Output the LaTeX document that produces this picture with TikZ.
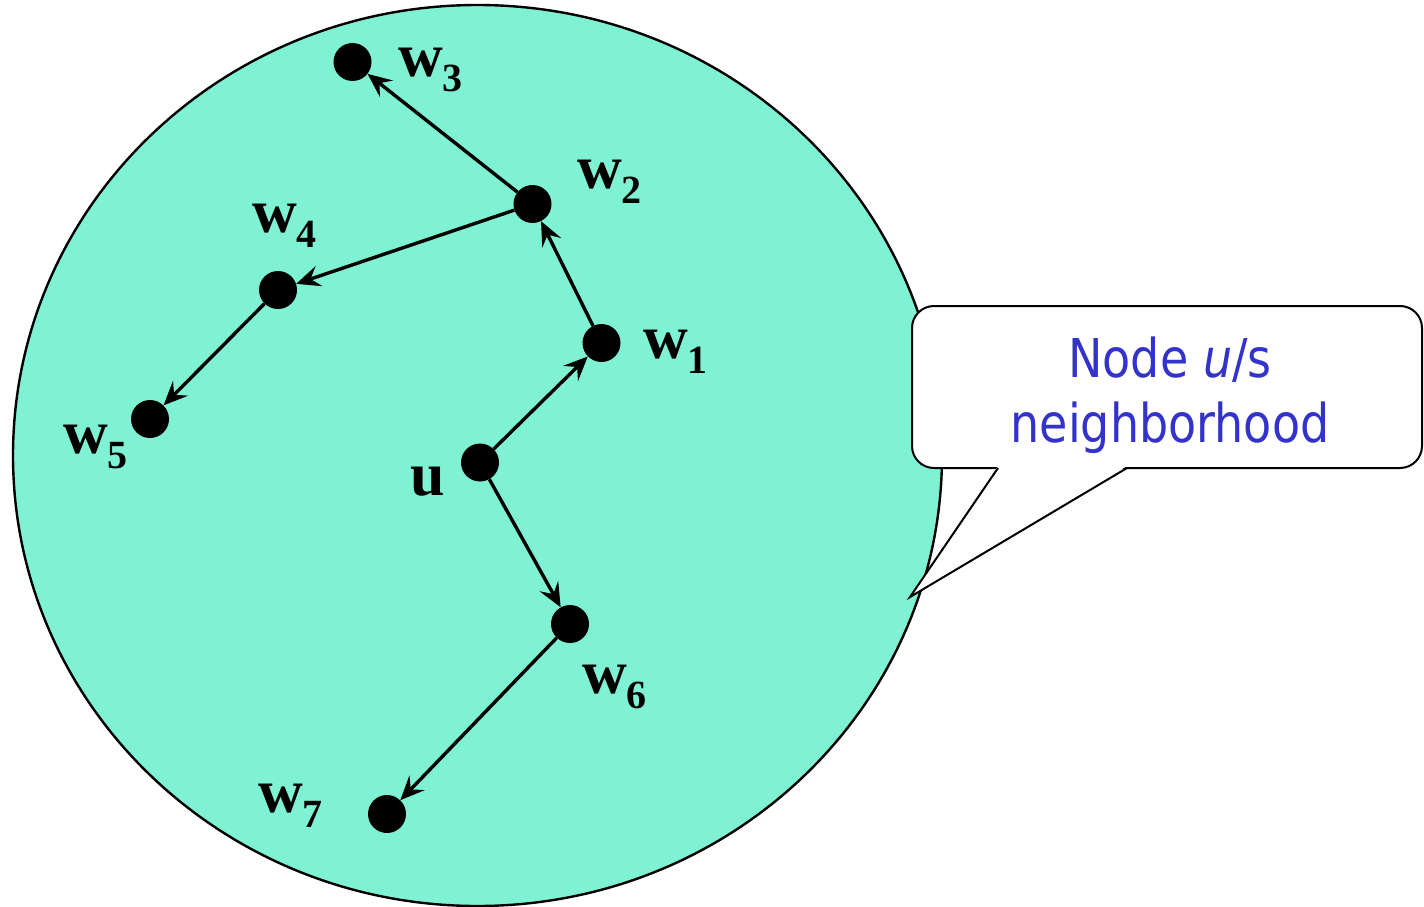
\documentclass[tikz,border=0pt]{standalone}
\usepackage{fontspec}
\usetikzlibrary{arrows.meta}
\newfontfamily\lblfont{Liberation Serif}
\newfontfamily\callfont{DejaVu Sans}[FakeStretch=0.86]
\definecolor{hoodfill}{RGB}{128,242,212}
\definecolor{callblue}{RGB}{51,51,204}
\newcommand\wsub[1]{\raisebox{-15pt}{\fontsize{40}{40}\selectfont #1}}
\tikzset{
  dot/.style={circle, fill=black, draw=none, minimum size=38pt, inner sep=0pt},
  arr/.style={line width=3.4pt, -{Stealth[length=24pt,width=21pt,inset=9pt]}},
  lbl/.style={anchor=base west, inner sep=0pt, font=\lblfont\bfseries\fontsize{62}{62}\selectfont},
  calltext/.style={anchor=base, inner sep=0pt, text=callblue, font=\callfont\fontsize{53.5}{65}\selectfont},
  callshape/.style={line width=2pt, draw=black, fill=white}
}
\begin{document}
\begin{tikzpicture}[x=1pt, y=-1pt]
\useasboundingbox (0,0) rectangle (1424,907);
% neighbourhood
\path[draw=black, line width=2.4pt, fill=hoodfill] (477.5,455.5) ellipse [x radius=464.5pt, y radius=450.5pt];
% nodes
\node[dot] (u)  at (480,462.5) {};
\node[dot] (w1) at (601.5,343) {};
\node[dot] (w2) at (532.5,204) {};
\node[dot] (w3) at (352.5,62) {};
\node[dot] (w4) at (278,290) {};
\node[dot] (w5) at (150,419) {};
\node[dot] (w6) at (570,624) {};
\node[dot] (w7) at (387,814) {};
% arrows
\draw[arr] (u) -- (w1);
\draw[arr] (w1) -- (w2);
\draw[arr] (w2) -- (w3);
\draw[arr] (w2) -- (w4);
\draw[arr] (w4) -- (w5);
\draw[arr] (u) -- (w6);
\draw[arr] (w6) -- (w7);
% labels
\node[lbl] (lu) at (410,495) {u};
\node[lbl] (l1) at (643,358) {w\wsub{1}};
\node[lbl] (l2) at (577,188) {w\wsub{2}};
\node[lbl] (l3) at (398,77) {w\wsub{3}};
\node[lbl] (l4) at (252,232) {w\wsub{4}};
\node[lbl] (l5) at (63,453) {w\wsub{5}};
\node[lbl] (l6) at (582,693) {w\wsub{6}};
\node[lbl] (l7) at (258,812) {w\wsub{7}};
% callout
\draw[callshape, rounded corners=22pt] (912,306) rectangle (1422,468);
\fill[white] (998,466) -- (910,597) -- (1127,466) -- cycle;
\draw[line width=2pt] (998,468) -- (910,597) -- (1127,468);
\node[calltext] (t1) at (1170,377) {Node \textit{u}/s};
\node[calltext] (t2) at (1170,442) {neighborhood};
\end{tikzpicture}
\end{document}
